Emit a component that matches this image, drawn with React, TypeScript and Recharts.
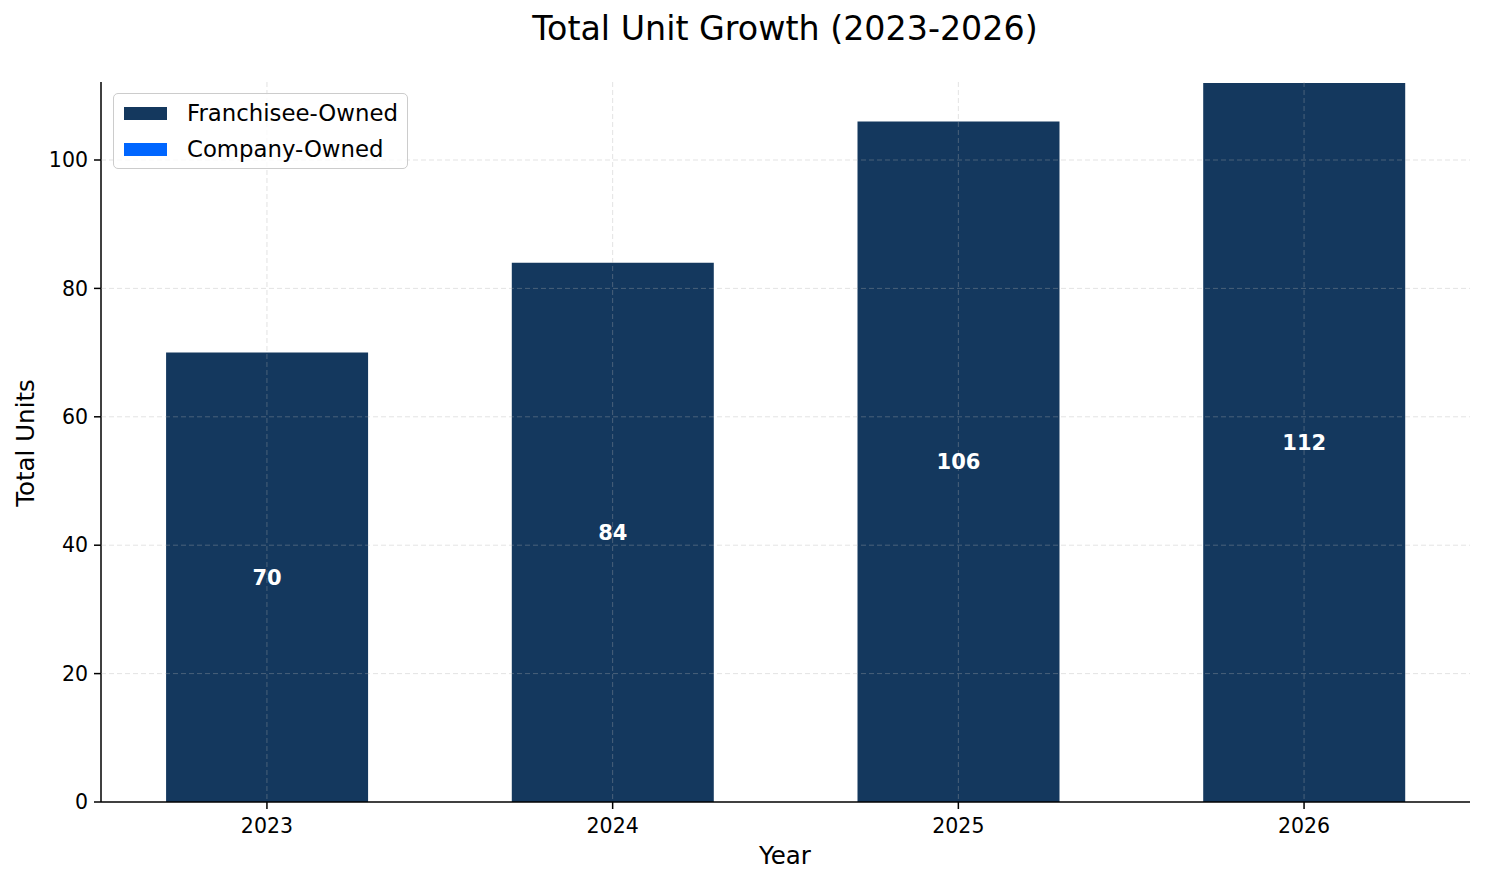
import { BarChart, Bar, XAxis, YAxis, CartesianGrid, LabelList } from 'recharts';

const years = ['2023', '2024', '2025', '2026'];
const franchiseeOwned = [70, 84, 106, 112];
const companyOwned = [0, 0, 0, 0];
const yTicks = [0, 20, 40, 60, 80, 100];
const xTicks = [0, 1, 2, 3];

const data = years.map((year, i) => ({
  idx: i,
  year,
  franchisee: franchiseeOwned[i],
  company: companyOwned[i],
}));

const FONT = '"DejaVu Sans", sans-serif';
const NAVY = '#14385e';
const BLUE = '#0066ff';

const tickStyle = { fill: '#000', fontSize: 20.5, fontFamily: FONT };
const gridStroke = 'rgba(176,176,176,0.35)';

export default function App() {
  return (
    <div
      style={{
        position: 'absolute',
        left: 0,
        top: 0,
        width: 1485,
        height: 884,
        background: '#fff',
        fontFamily: FONT,
      }}
    >
      <div
        style={{
          position: 'absolute',
          left: 0,
          width: 1570,
          top: 9,
          textAlign: 'center',
          fontSize: 33.3,
          color: '#000',
        }}
      >
        Total Unit Growth (2023-2026)
      </div>
      <div
        style={{
          position: 'absolute',
          left: 0,
          width: 1570,
          top: 841,
          textAlign: 'center',
          fontSize: 24.5,
        }}
      >
        Year
      </div>
      <div
        style={{
          position: 'absolute',
          left: 25,
          top: 443,
          transform: 'translate(-50%, -50%) rotate(-90deg)',
          whiteSpace: 'nowrap',
          fontSize: 24.5,
        }}
      >
        Total Units
      </div>

      <BarChart
        width={1485}
        height={884}
        data={data}
        margin={{ top: 82, right: 15, left: 21, bottom: 22 }}
      >
        <XAxis
          dataKey="idx"
          type="number"
          domain={[-0.48, 3.48]}
          ticks={xTicks}
          tickFormatter={(v: number) => years[v]}
          tick={tickStyle}
          tickSize={7}
          tickMargin={9}
          axisLine={{ stroke: '#000', strokeWidth: 1.5 }}
          tickLine={{ stroke: '#000', strokeWidth: 1.5 }}
          height={60}
          allowDataOverflow
        />
        <YAxis
          domain={[0, 112.15]}
          ticks={yTicks}
          tick={tickStyle}
          tickSize={7}
          tickMargin={6}
          axisLine={{ stroke: '#000', strokeWidth: 1.5 }}
          tickLine={{ stroke: '#000', strokeWidth: 1.5 }}
          width={80}
          allowDataOverflow
        />
        <Bar
          dataKey="franchisee"
          name="Franchisee-Owned"
          stackId="units"
          fill={NAVY}
          barSize={202}
          isAnimationActive={false}
        >
          <LabelList
            dataKey="franchisee"
            position="center"
            fill="#fff"
            fontSize={21}
            fontWeight="bold"
            fontFamily={FONT}
          />
        </Bar>
        <Bar
          dataKey="company"
          name="Company-Owned"
          stackId="units"
          fill={BLUE}
          barSize={202}
          isAnimationActive={false}
        />
        <CartesianGrid
          stroke={gridStroke}
          strokeDasharray="5 3"
          strokeWidth={1}
          horizontalValues={yTicks.filter((t) => t > 0)}
          verticalValues={xTicks}
          zIndex={1500}
        />
      </BarChart>

      <div
        style={{
          position: 'absolute',
          left: 113,
          top: 93,
          width: 293,
          height: 74,
          border: '1px solid #cccccc',
          borderRadius: 5,
          background: 'rgba(255,255,255,0.8)',
          fontSize: 22.8,
        }}
      >
        {[
          { label: 'Franchisee-Owned', color: NAVY },
          { label: 'Company-Owned', color: BLUE },
        ].map((item, i) => (
          <div
            key={item.label}
            style={{
              position: 'absolute',
              left: 10,
              top: 5 + i * 36,
              height: 28,
              display: 'flex',
              alignItems: 'center',
            }}
          >
            <span
              style={{
                display: 'inline-block',
                width: 43,
                height: 13,
                background: item.color,
                marginRight: 20,
              }}
            />
            <span>{item.label}</span>
          </div>
        ))}
      </div>
    </div>
  );
}
